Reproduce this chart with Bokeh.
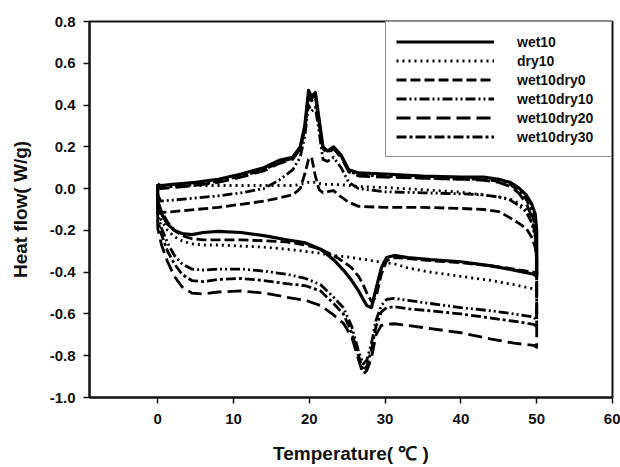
from bokeh.plotting import figure
from bokeh.models import (Range1d, FixedTicker, NumeralTickFormatter, Legend, LegendItem)
from bokeh.embed import file_html
from bokeh.resources import INLINE

# ---------------- data ----------------
series_names = ["wet10", "dry10", "wet10dry0", "wet10dry10", "wet10dry20", "wet10dry30"]

# heating branch (upper), temperature in degC
T_up = [0.0, 0.4, 2, 5, 8, 11, 14, 16, 17.8, 18.8, 19.4, 19.9, 20.3, 20.8, 21.3, 21.8,
        22.4, 23.2, 24.2, 25.2, 26.5, 30, 35, 40, 43, 45, 46.5, 47.6, 48.6, 49.3, 49.8, 50.0]
# cooling branch (lower), from 50 back to 0
T_dn = [50.0, 49.6, 47, 44, 40, 36, 33, 31.2, 30.2, 29.5, 28.8, 28.2, 27.6, 27.1, 26.5,
        25.6, 24.5, 23.2, 21.5, 19.5, 17, 14, 11, 8, 6, 4.5, 3.2, 2.2, 1.3, 0.5, 0.0]

wet10_up = [0.02, 0.015, 0.02, 0.03, 0.045, 0.07, 0.10, 0.135, 0.15, 0.20, 0.30, 0.47, 0.44, 0.46,
            0.33, 0.20, 0.18, 0.20, 0.16, 0.09, 0.075, 0.07, 0.06, 0.055, 0.055, 0.045, 0.03,
            0.005, -0.03, -0.07, -0.12, -0.20]
wet10_dn = [-0.42, -0.41, -0.39, -0.37, -0.35, -0.34, -0.33, -0.32, -0.33, -0.38, -0.48, -0.57,
            -0.56, -0.53, -0.49, -0.44, -0.39, -0.34, -0.29, -0.26, -0.245, -0.225, -0.21, -0.205,
            -0.21, -0.22, -0.215, -0.20, -0.17, -0.12, -0.06]

dry10_up = [0.02, 0.015, 0.015, 0.015, 0.015, 0.015, 0.015, 0.015, 0.015, 0.02, 0.025, 0.03, 0.03,
            0.03, 0.025, 0.02, 0.02, 0.02, 0.018, 0.015, 0.01, 0.005, -0.005, -0.017, -0.03, -0.04,
            -0.05, -0.07, -0.10, -0.14, -0.20, -0.27]
dry10_dn = [-0.49, -0.48, -0.46, -0.44, -0.42, -0.40, -0.38, -0.36, -0.355, -0.35, -0.35, -0.345,
            -0.34, -0.34, -0.335, -0.33, -0.325, -0.32, -0.31, -0.30, -0.29, -0.28, -0.275, -0.27,
            -0.27, -0.265, -0.25, -0.23, -0.20, -0.15, -0.10]

wet10dry0_up = [-0.10, -0.115, -0.11, -0.10, -0.09, -0.075, -0.06, -0.045, -0.03, 0.00, 0.07, 0.14,
                0.15, 0.06, -0.005, -0.02, -0.015, -0.01, -0.04, -0.065, -0.085, -0.09, -0.09,
                -0.095, -0.10, -0.11, -0.14, -0.165, -0.19, -0.23, -0.28, -0.34]
wet10dry0_dn = [-0.41, -0.40, -0.385, -0.37, -0.355, -0.345, -0.335, -0.33, -0.345, -0.41, -0.52,
                -0.54, -0.50, -0.46, -0.42, -0.38, -0.35, -0.32, -0.29, -0.27, -0.255, -0.25,
                -0.245, -0.245, -0.245, -0.24, -0.225, -0.20, -0.16, -0.11, -0.06]

wet10dry10_up = [-0.03, -0.06, -0.055, -0.045, -0.035, -0.02, 0.0, 0.04, 0.09, 0.15, 0.25, 0.40,
                 0.37, 0.39, 0.27, 0.14, 0.13, 0.15, 0.10, 0.03, 0.0, -0.015, -0.02, -0.025,
                 -0.03, -0.04, -0.055, -0.08, -0.11, -0.16, -0.23, -0.33]
wet10dry10_dn = [-0.63, -0.615, -0.60, -0.585, -0.57, -0.55, -0.535, -0.525, -0.53, -0.56, -0.63,
                 -0.74, -0.82, -0.84, -0.78, -0.66, -0.57, -0.52, -0.46, -0.43, -0.41, -0.395,
                 -0.385, -0.385, -0.39, -0.385, -0.36, -0.32, -0.26, -0.19, -0.12]

wet10dry20_up = [0.02, 0.0, 0.005, 0.015, 0.03, 0.055, 0.085, 0.12, 0.14, 0.19, 0.29, 0.44, 0.42,
                 0.44, 0.31, 0.19, 0.17, 0.19, 0.15, 0.08, 0.06, 0.055, 0.05, 0.045, 0.04, 0.03,
                 0.01, -0.02, -0.07, -0.13, -0.22, -0.36]
wet10dry20_dn = [-0.76, -0.75, -0.74, -0.72, -0.69, -0.67, -0.655, -0.647, -0.65, -0.655, -0.70,
                 -0.81, -0.87, -0.89, -0.82, -0.71, -0.645, -0.605, -0.56, -0.535, -0.52, -0.50,
                 -0.49, -0.495, -0.505, -0.50, -0.47, -0.42, -0.35, -0.27, -0.19]

wet10dry30_up = [0.02, 0.005, 0.01, 0.02, 0.035, 0.06, 0.09, 0.125, 0.145, 0.195, 0.29, 0.45, 0.43,
                 0.45, 0.32, 0.195, 0.175, 0.195, 0.155, 0.085, 0.065, 0.06, 0.05, 0.045, 0.045,
                 0.035, 0.02, -0.01, -0.05, -0.10, -0.17, -0.28]
wet10dry30_dn = [-0.66, -0.65, -0.635, -0.62, -0.60, -0.585, -0.575, -0.565, -0.57, -0.59, -0.66,
                 -0.77, -0.85, -0.87, -0.80, -0.69, -0.60, -0.55, -0.49, -0.465, -0.455, -0.44,
                 -0.43, -0.435, -0.445, -0.44, -0.41, -0.36, -0.30, -0.22, -0.15]

x_ticks = [0, 10, 20, 30, 40, 50, 60]
y_ticks = [-1.0, -0.8, -0.6, -0.4, -0.2, 0.0, 0.2, 0.4, 0.6, 0.8]

# ---------------- styling ----------------
FONT = "Liberation Sans"
dashes = {
    "wet10": "solid",
    "dry10": "2 4",
    "wet10dry0": "10 4",
    "wet10dry10": "10 3 2 3 2 3",
    "wet10dry20": "14 6",
    "wet10dry30": "10 3 3 3",
}
widths = {"wet10": 3.2, "dry10": 2.8, "wet10dry0": 2.8, "wet10dry10": 2.8,
          "wet10dry20": 2.8, "wet10dry30": 2.8}

p = figure(width=620, height=466, output_backend="svg", toolbar_location=None,
           x_range=Range1d(-9, 60), y_range=Range1d(-1.0, 0.8),
           min_border_left=89, min_border_right=8, min_border_top=21, min_border_bottom=69)
p.background_fill_color = "white"
p.border_fill_color = "white"
p.outline_line_color = "#111111"
p.outline_line_width = 2
p.grid.visible = False

branches = {
    "wet10": (wet10_up, wet10_dn),
    "dry10": (dry10_up, dry10_dn),
    "wet10dry0": (wet10dry0_up, wet10dry0_dn),
    "wet10dry10": (wet10dry10_up, wet10dry10_dn),
    "wet10dry20": (wet10dry20_up, wet10dry20_dn),
    "wet10dry30": (wet10dry30_up, wet10dry30_dn),
}

items = []
for name in series_names:
    up, dn = branches[name]
    xs = list(T_up) + list(T_dn) + [T_up[0]]
    ys = list(up) + list(dn) + [up[0]]
    r = p.line(xs, ys, line_color="black", line_width=widths[name],
               line_dash=dashes[name], line_join="round")
    items.append(LegendItem(label=name, renderers=[r]))

legend = Legend(items=items, location="top_right", margin=0, padding=10, spacing=0,
                glyph_width=98, glyph_height=19, label_height=19, label_standoff=23,
                label_width=84, border_line_color="#222222", border_line_width=1.5,
                background_fill_color="white", background_fill_alpha=1.0,
                label_text_font=FONT, label_text_font_style="bold",
                label_text_font_size="14px", label_text_color="#111111")
p.add_layout(legend)

for ax in (p.xaxis[0], p.yaxis[0]):
    ax.axis_line_width = 2
    ax.axis_line_color = "#111111"
    ax.major_tick_line_color = "#111111"
    ax.major_tick_line_width = 1.5
    ax.major_tick_out = 6
    ax.major_tick_in = 0
    ax.minor_tick_line_color = None
    ax.major_label_text_font = FONT
    ax.major_label_text_font_style = "bold"
    ax.major_label_text_font_size = "15px"
    ax.major_label_text_color = "#111111"
    ax.axis_label_text_font = FONT
    ax.axis_label_text_font_style = "bold"
    ax.axis_label_text_font_size = "19px"
    ax.axis_label_text_color = "#111111"

p.xaxis.ticker = FixedTicker(ticks=x_ticks)
p.yaxis.ticker = FixedTicker(ticks=y_ticks)
p.yaxis.formatter = NumeralTickFormatter(format="0.0")
p.xaxis.axis_label = "Temperature( \u2103 )"
p.yaxis.axis_label = "Heat flow( W/g)"
p.xaxis.major_label_standoff = 10
p.xaxis.axis_label_standoff = 16
p.yaxis.major_label_standoff = 8
p.yaxis.axis_label_standoff = 16

open("out.html", "w").write(file_html(p, INLINE))
